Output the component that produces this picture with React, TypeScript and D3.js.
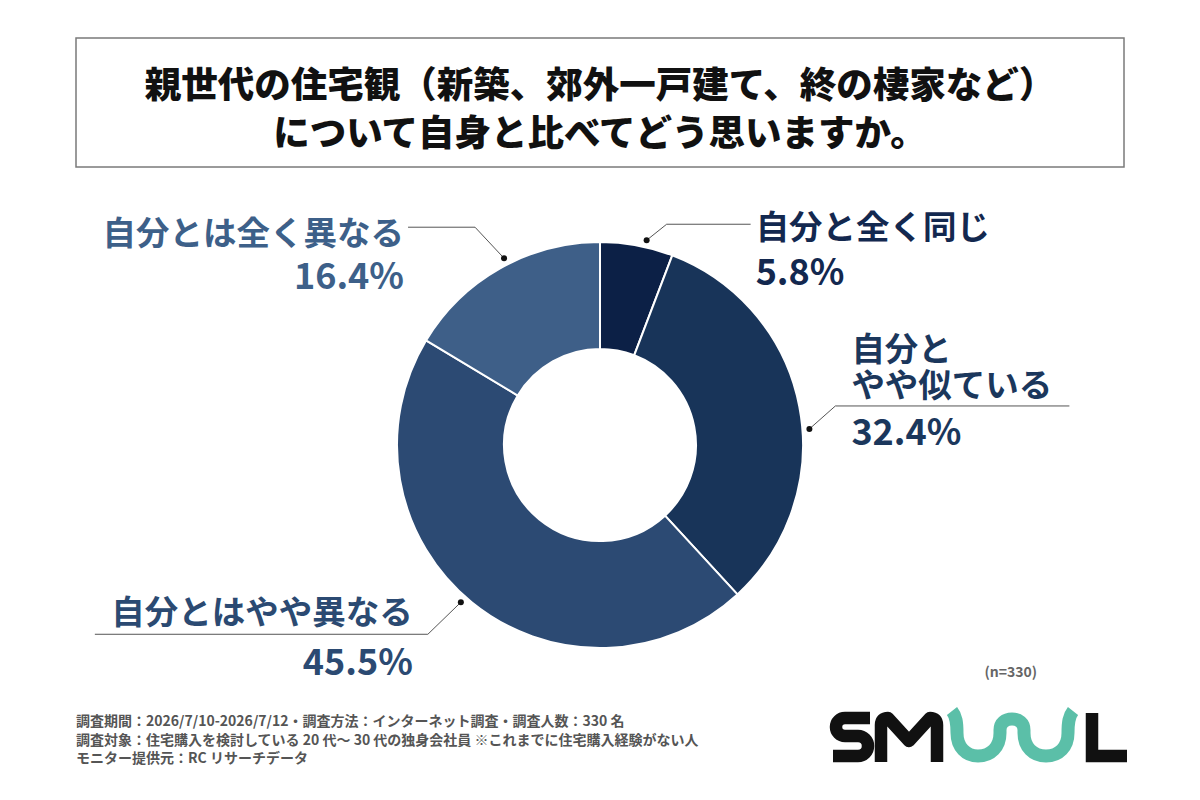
import { useRef, useEffect } from 'react';
import * as d3 from 'd3';

const WIDTH = 1200;
const HEIGHT = 800;
const FONT = '"Noto Sans CJK JP", "Noto Sans", sans-serif';

const TITLE_LINES = [
  '親世代の住宅観（新築、郊外一戸建て、終の棲家など）',
  'について自身と比べてどう思いますか。',
];

const CATEGORIES = ['自分と全く同じ', '自分とやや似ている', '自分とはやや異なる', '自分とは全く異なる'];
const VALUES = [5.8, 32.4, 45.5, 16.4];
const COLORS = ['#0c2046', '#183459', '#2c4a73', '#3e5f88'];
const LABEL_COLORS = ['#13284f', '#1b375c', '#2b4a72', '#3d6089'];

// how each category label is wrapped on screen
const LABEL_LINES = [['自分と全く同じ'], ['自分と', 'やや似ている'], ['自分とはやや異なる'], ['自分とは全く異なる']];

// leader layout: angle nudge (deg), elbow offset from dot, horizontal run, text side/offsets
const LEADERS = [
  { nudge: 2.4, elbow: [20, -16], run: 84, side: 'right', textAtEnd: true, gap: 5, lineDy: [0], pctDy: 45 },
  { nudge: 6.5, elbow: [26, -23], run: 234, side: 'right', textAtEnd: false, gap: 16, lineDy: [-59, -23], pctDy: 23 },
  { nudge: 2.3, elbow: [-33, 32], run: 333, side: 'left', textAtEnd: false, gap: 15, lineDy: [-25], pctDy: 25 },
  { nudge: 2.3, elbow: [-29, -31], run: 67, side: 'left', textAtEnd: true, gap: 4, lineDy: [3], pctDy: 46 },
];

const FOOTNOTES = [
  '調査期間：2026/7/10-2026/7/12・調査方法：インターネット調査・調査人数：330 名',
  '調査対象：住宅購入を検討している 20 代〜 30 代の独身会社員 ※これまでに住宅購入経験がない人',
  'モニター提供元：RC リサーチデータ',
];
const SAMPLE = '(n=330)';

const CX = 600;
const CY = 445;
const R_OUT = 203;
const R_IN = 96;

export default function App() {
  const svgRef = useRef<SVGSVGElement>(null);

  useEffect(() => {
    document.body.style.margin = '0';
    const svg = d3.select(svgRef.current);
    svg.selectAll('*').remove();

    svg.append('rect').attr('width', WIDTH).attr('height', HEIGHT).attr('fill', '#fff');

    // Title box
    svg.append('rect')
      .attr('x', 76).attr('y', 38).attr('width', 1048).attr('height', 129)
      .attr('fill', '#fff').attr('stroke', '#7a7a7a').attr('stroke-width', 1.5);
    TITLE_LINES.forEach((t, i) => {
      svg.append('text')
        .attr('x', WIDTH / 2).attr('y', 82 + i * 48)
        .attr('text-anchor', 'middle').attr('dominant-baseline', 'central')
        .attr('font-family', FONT).attr('font-weight', 900).attr('font-size', 36.5)
        .attr('fill', '#111').text(t);
    });

    // Donut
    const pie = d3.pie<number>().sort(null).value(d => d);
    const arcs = pie(VALUES);
    const arc = d3.arc<d3.PieArcDatum<number>>().innerRadius(R_IN).outerRadius(R_OUT);
    const g = svg.append('g').attr('transform', `translate(${CX},${CY})`);
    g.selectAll('path.slice')
      .data(arcs)
      .join('path')
      .attr('class', 'slice')
      .attr('d', arc)
      .attr('fill', (_, i) => COLORS[i])
      .attr('stroke', '#fff').attr('stroke-width', 2)
      .append('title').text((_, i) => CATEGORIES[i]);

    // Labels + leaders
    const labelG = svg.append('g');
    arcs.forEach((a, i) => {
      const L = LEADERS[i];
      const ang = (a.startAngle + a.endAngle) / 2 + (L.nudge * Math.PI) / 180;
      const dx = CX + Math.sin(ang) * 210;
      const dy = CY - Math.cos(ang) * 210;
      const ex = dx + L.elbow[0];
      const ey = dy + L.elbow[1];
      const right = L.side === 'right';
      const hx = right ? ex + L.run : ex - L.run;
      labelG.append('polyline')
        .attr('points', `${dx},${dy} ${ex},${ey} ${hx},${ey}`)
        .attr('fill', 'none').attr('stroke', '#555').attr('stroke-width', 1);
      labelG.append('circle').attr('cx', dx).attr('cy', dy).attr('r', 3).attr('fill', '#111');

      const base = L.textAtEnd ? hx : ex;
      const textX = right ? base + L.gap : base - L.gap;
      const anchor = right ? 'start' : 'end';

      LABEL_LINES[i].forEach((line, j) => {
        labelG.append('text')
          .attr('x', textX).attr('y', ey + L.lineDy[j])
          .attr('text-anchor', anchor).attr('dominant-baseline', 'central')
          .attr('font-family', FONT).attr('font-weight', 700).attr('font-size', 33.5)
          .attr('fill', LABEL_COLORS[i]).text(line);
      });
      labelG.append('text')
        .attr('x', textX).attr('y', ey + L.pctDy)
        .attr('text-anchor', anchor).attr('dominant-baseline', 'central')
        .attr('font-family', FONT).attr('font-weight', 700).attr('font-size', 36)
        .attr('fill', LABEL_COLORS[i]).text(`${VALUES[i].toFixed(1)}%`);
    });

    // n
    svg.append('text')
      .attr('x', 1037).attr('y', 671).attr('text-anchor', 'end').attr('dominant-baseline', 'central')
      .attr('font-family', FONT).attr('font-weight', 700).attr('font-size', 14)
      .attr('fill', '#666').text(SAMPLE);

    // Footnotes
    FOOTNOTES.forEach((t, i) => {
      svg.append('text')
        .attr('x', 76).attr('y', 720 + i * 18.5).attr('dominant-baseline', 'central')
        .attr('font-family', FONT).attr('font-weight', 700).attr('font-size', 14)
        .attr('fill', '#555').text(t);
    });

    // Logo
    const logo = svg.append('g').attr('fill', 'none').attr('stroke-width', 12.5);
    logo.append('path')
      .attr('d', 'M870,718 H845 A9,9 0 0 0 845,736 H858 A10,10 0 0 1 858,756 H833')
      .attr('stroke', '#111');
    logo.append('path')
      .attr('d', 'M881,762 V725 Q881,718 888,718 L909,741 L930,718 Q937,718 937,725 V762')
      .attr('stroke', '#111').attr('stroke-linejoin', 'round');
    logo.append('path')
      .attr('d', 'M952,711 C956,716 957,722 957,733 C957,747 966,756 978,756 C991,756 1000,747 1000,733 V730 C1000,723 1005,719 1012,719 C1019,719 1024,723 1024,730 V733 C1024,747 1033,756 1046,756 C1059,756 1068,747 1068,733 C1068,722 1069,716 1073,711')
      .attr('stroke', '#5bbfa8').attr('stroke-width', 13);
    logo.append('path')
      .attr('d', 'M1092,713 V756 H1127')
      .attr('stroke', '#111');
  }, []);

  return (
    <div style={{ position: 'fixed', left: 0, top: 0 }}>
      <svg ref={svgRef} width={WIDTH} height={HEIGHT} />
    </div>
  );
}
